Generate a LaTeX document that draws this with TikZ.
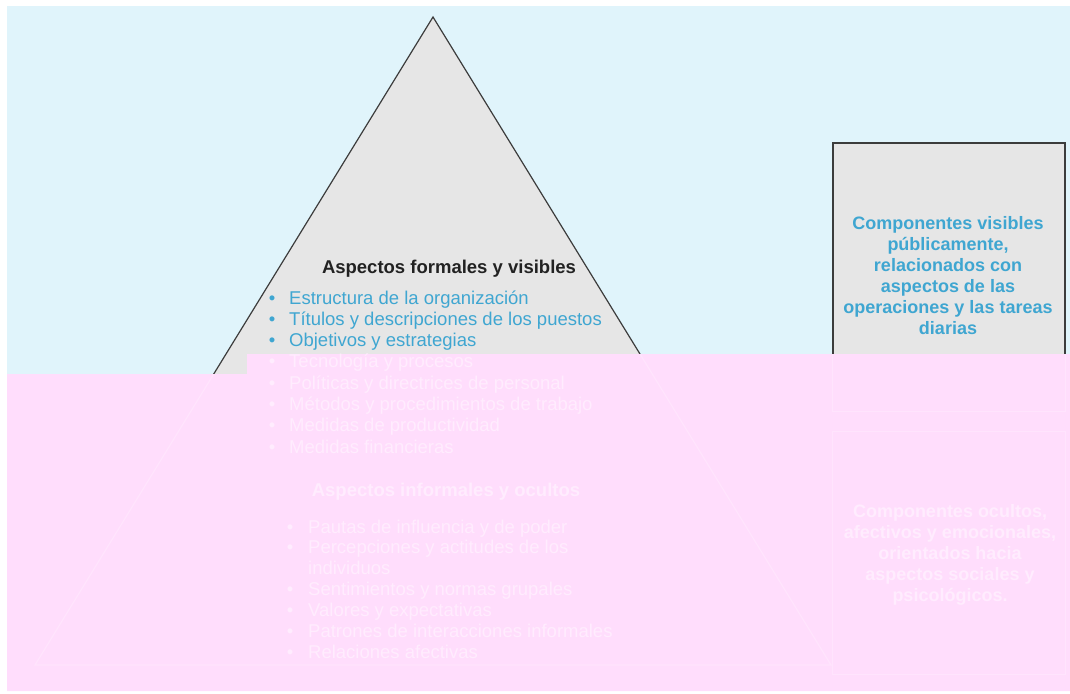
\documentclass[tikz,border=0pt]{standalone}
\usepackage{fontspec}
\setmainfont{Liberation Sans}
\usetikzlibrary{calc}

\definecolor{skyblue}{HTML}{E0F4FB}
\definecolor{veilpink}{HTML}{FFDDFC}
\definecolor{icegray}{HTML}{E6E6E6}
\definecolor{edgegray}{HTML}{3C3C3C}
\definecolor{headtext}{HTML}{222222}
\definecolor{cyantext}{HTML}{3FA6D1}
\definecolor{ghosttext}{HTML}{FFECFE}
\definecolor{ghostline}{HTML}{FFE4FD}

\begin{document}
\begin{tikzpicture}[x=1pt,y=-1pt,
  ice/.style={fill=icegray, draw=edgegray, line width=1.2pt},
  panel/.style={ice, minimum width=232pt, inner sep=0pt},
  head/.style={font=\bfseries\fontsize{18.5}{21}\selectfont, anchor=base, inner sep=0pt, text=headtext},
  entry/.style={font=\fontsize{18.5}{21}\selectfont, anchor=base west, inner sep=0pt, text=cyantext},
  bul/.style={font=\fontsize{18.5}{21}\selectfont, anchor=base, inner sep=0pt, text=cyantext},
  note/.style={font=\bfseries\fontsize{18}{21}\selectfont, align=center, inner sep=0pt, text=cyantext},
  ghost/.style={text=ghosttext}]
\useasboundingbox (0,0) rectangle (1070,693);

% water surface: sky above
\fill[skyblue] (7,6) rectangle (1070,374);

% the iceberg
\coordinate (apex) at (433,17);
\coordinate (basel) at (35,665);
\coordinate (baser) at (831,665);
\filldraw[ice] (apex) -- (basel) -- (baser) -- cycle;

% side panels
\node[panel, minimum height=268pt] (vispanel) at (949,277) {};
\node[panel, minimum height=242pt] (hidpanel) at (949,553) {};

% visible part of the iceberg
\node[head] (formhead) at (449,273) {Aspectos formales y visibles};
\foreach \t [count=\i] in {Estructura de la organización,
                           Títulos y descripciones de los puestos,
                           Objetivos y estrategias} {
  \node[bul] (fb\i) at (272,{304+21.3*(\i-1)}) {•};
  \node[entry] (fi\i) at (289,{304+21.3*(\i-1)}) {\t};
}
\node[note] (vistext) at (948,276) {Componentes visibles\\públicamente,\\relacionados con\\aspectos de las\\operaciones y las tareas\\diarias};

% underwater veil
\fill[veilpink] (7,374) -- (247,374) -- (247,354) -- (1070,354) -- (1070,691) -- (7,691) -- cycle;

% outlines seen faintly through the veil
\begin{scope}
  \clip (7,374) -- (247,374) -- (247,354) -- (1070,354) -- (1070,691) -- (7,691) -- cycle;
  \draw[ghostline, line width=1.2pt] (apex) -- (basel) -- (baser) -- cycle;
  \draw[ghostline, line width=1.2pt] (vispanel.north west) rectangle (vispanel.south east);
  \draw[ghostline, line width=1.2pt] (hidpanel.north west) rectangle (hidpanel.south east);
\end{scope}

% texts seen faintly through the veil
\foreach \t [count=\i from 4] in {Tecnología y procesos,
                                  Políticas y directrices de personal,
                                  Métodos y procedimientos de trabajo,
                                  Medidas de productividad,
                                  Medidas financieras} {
  \node[bul, ghost] (fb\i) at (272,{304+21.3*(\i-1)}) {•};
  \node[entry, ghost] (fi\i) at (289,{304+21.3*(\i-1)}) {\t};
}
\node[head, ghost] (infhead) at (446,496) {Aspectos informales y ocultos};
\foreach \t/\k in {Pautas de influencia y de poder/0,
                   Percepciones y actitudes de los/1,
                   Sentimientos y normas grupales/3,
                   Valores y expectativas/4,
                   Patrones de interacciones informales/5,
                   Relaciones afectivas/6} {
  \node[bul, ghost] (ib\k) at (290,{533+20.9*\k}) {•};
  \node[entry, ghost] (ii\k) at (308,{533+20.9*\k}) {\t};
}
\node[entry, ghost] (ii2) at (308,{533+20.9*2}) {individuos};
\node[note, ghost] (hidtext) at (950,555) {Componentes ocultos,\\afectivos y emocionales,\\orientados hacia\\aspectos sociales y\\psicológicos.};
\end{tikzpicture}
\end{document}
